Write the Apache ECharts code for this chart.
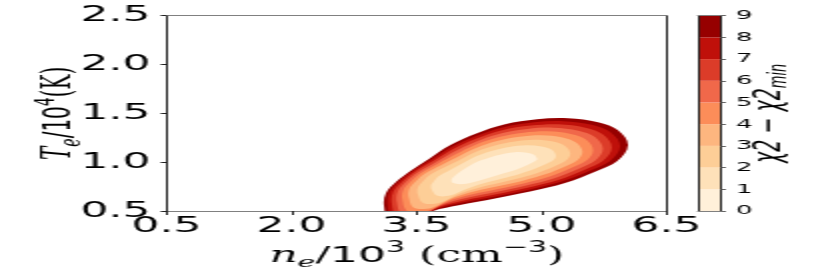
<!DOCTYPE html>
<html><head><meta charset="utf-8">
<script src="https://cdn.jsdelivr.net/npm/echarts@6/dist/echarts.min.js"></script>
<style>
html,body{margin:0;padding:0;background:#fff;overflow:hidden}
#wrap{width:830px;height:272px;overflow:hidden}
#c{width:415px;height:272px;transform:scaleX(2);transform-origin:0 0}
</style>
</head><body><div id="wrap"><div id="c"></div></div>
<script>
// ---- data ----
const xTicks = [0.5, 2.0, 3.5, 5.0, 6.5];
const yTicks = [0.5, 1.0, 1.5, 2.0, 2.5];
const colorbarTicks = [0, 1, 2, 3, 4, 5, 6, 7, 8, 9];
const colorbarBands = [0, 1, 2, 3, 4, 5, 6, 7, 8];
const contourLevels = [9, 8, 7, 6, 5, 4, 3, 2, 1];

// contour outlines (n_e/1e3, T_e/1e4) of chi2 - chi2min = level
const contour9 = [[6.036,1.173],[5.916,1.327],[5.676,1.408],[5.316,1.449],[4.944,1.439],[4.56,1.388],[4.224,1.296],[3.9,1.173],[3.66,1.041],[3.42,0.908],[3.264,0.806],[3.132,0.684],[3.108,0.551],[3.18,0.398],[3.444,0.398],[3.696,0.5],[4.02,0.561],[4.44,0.628],[4.86,0.699],[5.28,0.786],[5.64,0.903],[5.904,1.01]];
const contour8 = [[5.942,1.162],[5.83,1.305],[5.603,1.382],[5.261,1.419],[4.908,1.408],[4.543,1.358],[4.222,1.27],[3.913,1.152],[3.682,1.029],[3.445,0.904],[3.296,0.806],[3.172,0.689],[3.151,0.562],[3.222,0.416],[3.478,0.417],[3.734,0.521],[4.051,0.586],[4.448,0.649],[4.846,0.718],[5.24,0.802],[5.578,0.912],[5.821,1.011]];
const contour7 = [[5.843,1.15],[5.737,1.283],[5.525,1.353],[5.203,1.388],[4.87,1.375],[4.526,1.328],[4.219,1.243],[3.928,1.13],[3.706,1.016],[3.475,0.9],[3.336,0.806],[3.22,0.696],[3.202,0.577],[3.272,0.44],[3.518,0.44],[3.774,0.544],[4.084,0.611],[4.457,0.672],[4.83,0.739],[5.2,0.818],[5.51,0.921],[5.734,1.013]];
const contour6 = [[5.736,1.137],[5.639,1.258],[5.442,1.322],[5.141,1.353],[4.829,1.341],[4.507,1.294],[4.218,1.213],[3.943,1.105],[3.732,1.002],[3.511,0.894],[3.382,0.806],[3.275,0.703],[3.262,0.592],[3.331,0.466],[3.565,0.467],[3.821,0.57],[4.12,0.639],[4.466,0.698],[4.814,0.761],[5.155,0.836],[5.438,0.931],[5.64,1.014]];
const contour5 = [[5.618,1.122],[5.531,1.231],[5.351,1.289],[5.074,1.316],[4.783,1.302],[4.487,1.257],[4.214,1.181],[3.96,1.078],[3.76,0.987],[3.551,0.888],[3.434,0.806],[3.338,0.711],[3.33,0.61],[3.398,0.496],[3.619,0.497],[3.869,0.598],[4.158,0.668],[4.477,0.725],[4.796,0.785],[5.106,0.856],[5.36,0.942],[5.537,1.016]];
const contour4 = [[5.49,1.107],[5.412,1.201],[5.25,1.253],[4.998,1.275],[4.734,1.26],[4.464,1.217],[4.212,1.145],[3.978,1.048],[3.793,0.969],[3.596,0.882],[3.493,0.806],[3.409,0.721],[3.407,0.632],[3.474,0.53],[3.679,0.532],[3.925,0.63],[4.2,0.702],[4.488,0.755],[4.776,0.811],[5.052,0.878],[5.274,0.954],[5.424,1.018]];
const contour3 = [[5.344,1.09],[5.276,1.168],[5.136,1.211],[4.913,1.229],[4.678,1.212],[4.439,1.171],[4.208,1.105],[3.998,1.015],[3.835,0.947],[3.662,0.871],[3.578,0.806],[3.512,0.735],[3.517,0.661],[3.583,0.58],[3.767,0.582],[3.998,0.671],[4.248,0.739],[4.501,0.789],[4.753,0.841],[4.991,0.902],[5.176,0.967],[5.296,1.02]];
const contour2 = [[5.17,1.068],[5.117,1.129],[5.0,1.161],[4.812,1.173],[4.61,1.155],[4.408,1.116],[4.205,1.057],[4.024,0.975],[3.89,0.916],[3.763,0.856],[3.709,0.806],[3.671,0.756],[3.688,0.707],[3.751,0.655],[3.901,0.658],[4.096,0.726],[4.306,0.784],[4.516,0.83],[4.727,0.877],[4.919,0.932],[5.059,0.984],[5.143,1.022]];
const contour1 = [[4.944,1.041],[4.908,1.077],[4.824,1.097],[4.68,1.102],[4.524,1.082],[4.368,1.046],[4.2,0.995],[4.056,0.923],[3.972,0.872],[3.924,0.832],[3.918,0.806],[3.924,0.791],[3.96,0.781],[4.02,0.775],[4.116,0.781],[4.236,0.806],[4.38,0.842],[4.536,0.883],[4.692,0.923],[4.824,0.969],[4.908,1.005],[4.944,1.025]];

// ---- styles ----
const contours = {1:contour1,2:contour2,3:contour3,4:contour4,5:contour5,6:contour6,7:contour7,8:contour8,9:contour9};
const bandColors = ['#fff0da','#fee1b9','#fdce97','#fdb67f','#fc8d59','#f0684a','#dc3c29','#bf100a','#960000'];
const FONT = 'DejaVu Sans';
const fmt1 = v => Number(v).toFixed(1);

const chart = echarts.init(document.getElementById('c'), null, {renderer:'canvas', devicePixelRatio:1});

const hiddenAxis = (extra) => Object.assign({
  type:'value', axisTick:{show:false}, axisLabel:{show:false}, splitLine:{show:false}, z:10
}, extra);

const makeRich = (fs, sfs, lh) => ({
  i:{fontFamily:'DejaVu Serif', fontStyle:'italic', fontSize:fs, lineHeight:lh, color:'#000'},
  sub:{fontFamily:'DejaVu Serif', fontStyle:'italic', fontSize:sfs, lineHeight:sfs, verticalAlign:'bottom', color:'#000'},
  t:{fontFamily:FONT, fontSize:fs, lineHeight:lh, color:'#000'},
  sup:{fontFamily:FONT, fontSize:sfs, lineHeight:sfs, verticalAlign:'top', color:'#000'},
  s:{fontFamily:'DejaVu Serif', fontSize:fs, lineHeight:lh, color:'#000'}
});

const option = {
  animation:false,
  grid:[
    {left:83.35, right:81.65, top:15.7, bottom:61, containLabel:false, outerBoundsMode:'none'},
    {left:349, width:11.5, top:15.7, bottom:61, containLabel:false, outerBoundsMode:'none'}
  ],
  xAxis:[
    {gridIndex:0, type:'value', min:0.5, max:6.5, interval:1.5, position:'bottom', z:10,
     axisLine:{show:true, onZero:false, lineStyle:{color:'#808080', width:1}},
     axisTick:{show:true, length:4, lineStyle:{color:'#222'}},
     axisLabel:{fontFamily:FONT, fontSize:22, color:'#000', margin:4, formatter:fmt1, showMinLabel:true, showMaxLabel:true},
     splitLine:{show:false},
     name:'{i|n}{sub|e}{t|/10}{sup|3}{s| (cm}{sup|−3}{s|)}',
     nameLocation:'middle', nameGap:30, nameMoveOverlap:false,
     nameTextStyle:{rich:makeRich(22, 15, 30)}
    },
    hiddenAxis({gridIndex:0, min:0.5, max:6.5, position:'top', axisLine:{show:true, onZero:false, lineStyle:{color:'#808080'}}}),
    hiddenAxis({gridIndex:1, min:0, max:1, position:'bottom', axisLine:{show:true, onZero:false, lineStyle:{color:'#808080'}}}),
    hiddenAxis({gridIndex:1, min:0, max:1, position:'top', axisLine:{show:true, onZero:false, lineStyle:{color:'#808080'}}})
  ],
  yAxis:[
    {gridIndex:0, type:'value', min:0.5, max:2.5, interval:0.5, position:'left', z:10,
     axisLine:{show:true, onZero:false, lineStyle:{color:'#222', width:1}},
     axisTick:{show:true, length:3, lineStyle:{color:'#222'}},
     axisLabel:{fontFamily:FONT, fontSize:22, color:'#000', margin:8, formatter:fmt1, showMinLabel:true, showMaxLabel:true},
     splitLine:{show:false},
     name:'{i|T}{sub|e}{t|/10}{sup|4}{s|(K)}',
     nameLocation:'middle', nameRotate:90, nameGap:40, nameMoveOverlap:false,
     nameTextStyle:{rich:makeRich(20, 14, 27)}
    },
    hiddenAxis({gridIndex:0, min:0.5, max:2.5, position:'right', axisLine:{show:true, onZero:false, lineStyle:{color:'#222'}}}),
    {gridIndex:1, type:'value', min:0, max:9, interval:1, position:'right', z:10,
     axisLine:{show:true, onZero:false, lineStyle:{color:'#222'}},
     axisTick:{show:true, length:2.5, lineStyle:{color:'#666'}},
     axisLabel:{fontFamily:FONT, fontSize:13, color:'#000', margin:7.5, showMinLabel:true, showMaxLabel:true},
     splitLine:{show:false},
     name:'{t|χ2 − χ2}{sub|min}',
     nameLocation:'middle', nameRotate:90, nameGap:14, nameMoveOverlap:false,
     nameTextStyle:{rich:{
       t:{fontFamily:FONT, fontStyle:'italic', fontSize:19, lineHeight:22, color:'#000'},
       sub:{fontFamily:FONT, fontStyle:'italic', fontSize:13, lineHeight:13, verticalAlign:'bottom', color:'#000'}
     }}
    },
    hiddenAxis({gridIndex:1, min:0, max:9, position:'left', axisLine:{show:true, onZero:false, lineStyle:{color:'#222'}}})
  ],
  series:[
    {type:'custom', xAxisIndex:0, yAxisIndex:0, clip:true, silent:true,
     data: contourLevels.map(l => [l]),
     renderItem:(params, api) => {
       const lvl = api.value(0);
       const pts = contours[lvl].map(p => api.coord(p));
       return {type:'polygon', z2: 10 - lvl,
         shape:{points:pts, smooth:0.35},
         style:{fill:bandColors[lvl-1], stroke:null}};
     }
    },
    {type:'custom', xAxisIndex:2, yAxisIndex:2, silent:true,
     data: colorbarBands.map(b => [b]),
     renderItem:(params, api) => {
       const b = api.value(0);
       const p0 = api.coord([0, b + 1]);
       const p1 = api.coord([1, b]);
       return {type:'rect', shape:{x:p0[0], y:p0[1], width:p1[0]-p0[0], height:p1[1]-p0[1]},
         style:{fill:bandColors[b]}};
     }
    }
  ]
};
chart.setOption(option);
</script>
</body></html>
